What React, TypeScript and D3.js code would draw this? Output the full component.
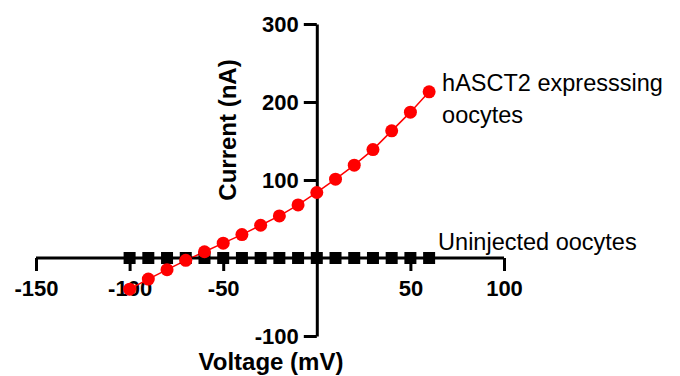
import React, { useEffect, useRef } from 'react';
import * as d3 from 'd3';

const voltages = [-100, -90, -80, -70, -60, -50, -40, -30, -20, -10, 0, 10, 20, 30, 40, 50, 60];
const hasct2 = [-40, -27, -15, -3, 8, 19, 30, 42, 54, 68, 84, 101, 119, 139, 163, 187, 213];
const uninjected = [0, 0, 0, 0, 0, 0, 0, 0, 0, 0, 0, 0, 0, 0, 0, 0, 0];
const xTicks = [-150, -100, -50, 50, 100];
const yTicks = [-100, 100, 200, 300];

const App = () => {
  const svgRef = useRef<SVGSVGElement>(null);

  useEffect(() => {
    const width = 680;
    const height = 376;
    const font = "'Liberation Sans', Arial, sans-serif";
    const fmt = (d: number) => String(d); // plain hyphen minus like the original

    const x = d3.scaleLinear().domain([-150, 100]).range([36, 504]);
    const y = d3.scaleLinear().domain([-100, 300]).range([336, 24]);

    const svg = d3.select(svgRef.current)
      .attr("width", width)
      .attr("height", height)
      .attr("viewBox", [0, 0, width, height]);
    svg.selectAll("*").remove();

    // x axis through y = 0
    const xAxis = svg.append("g")
      .attr("transform", `translate(0,${y(0)})`)
      .call(d3.axisBottom(x).tickValues(xTicks).tickFormat(fmt).tickSize(13).tickPadding(9).tickSizeOuter(0));
    xAxis.select(".domain").attr("d", `M${x(-150)},0H${x(100)}`);

    // y axis through x = 0
    svg.append("g")
      .attr("transform", `translate(${x(0)},0)`)
      .call(d3.axisLeft(y).tickValues(yTicks).tickFormat(fmt).tickSize(13).tickPadding(5).tickSizeOuter(0));

    svg.selectAll(".domain, .tick line")
      .attr("stroke", "#000")
      .attr("stroke-width", 3);
    svg.selectAll(".tick text")
      .attr("fill", "#000")
      .attr("font-family", font)
      .attr("font-weight", "bold")
      .attr("font-size", 22);

    // red line
    const line = d3.line<number>()
      .x((d, i) => x(voltages[i]))
      .y(d => y(d));

    svg.append("path")
      .datum(hasct2)
      .attr("d", line)
      .attr("fill", "none")
      .attr("stroke", "#ff0000")
      .attr("stroke-width", 1.5);

    // uninjected squares
    svg.append("path")
      .datum(uninjected)
      .attr("d", line)
      .attr("fill", "none")
      .attr("stroke", "#000")
      .attr("stroke-width", 1.5);

    const sq = 12;
    svg.append("g")
      .selectAll("rect")
      .data(uninjected)
      .join("rect")
      .attr("x", (d, i) => x(voltages[i]) - sq / 2)
      .attr("y", d => y(d) - sq / 2)
      .attr("width", sq)
      .attr("height", sq)
      .attr("fill", "#000");

    svg.append("g")
      .selectAll("circle")
      .data(hasct2)
      .join("circle")
      .attr("cx", (d, i) => x(voltages[i]))
      .attr("cy", d => y(d))
      .attr("r", 6.5)
      .attr("fill", "#ff0000");

    // axis titles
    svg.append("text")
      .attr("transform", `translate(236,130) rotate(-90)`)
      .attr("text-anchor", "middle")
      .attr("font-family", font)
      .attr("font-weight", "bold")
      .attr("font-size", 24)
      .text("Current (nA)");

    svg.append("text")
      .attr("x", 271)
      .attr("y", 370)
      .attr("text-anchor", "middle")
      .attr("font-family", font)
      .attr("font-weight", "bold")
      .attr("font-size", 24)
      .text("Voltage (mV)");

    // series labels
    const lastX = x(voltages[voltages.length - 1]);
    const lab = svg.append("text")
      .attr("font-family", font)
      .attr("font-size", 23.5)
      .attr("fill", "#000");
    lab.append("tspan").attr("x", lastX + 13).attr("y", 91).text("hASCT2 expresssing");
    lab.append("tspan").attr("x", lastX + 13).attr("y", 123).text("oocytes");

    svg.append("text")
      .attr("x", lastX + 9)
      .attr("y", 250)
      .attr("font-family", font)
      .attr("font-size", 23.5)
      .attr("fill", "#000")
      .text("Uninjected oocytes");
  }, []);

  return (
    <svg ref={svgRef} style={{ position: "absolute", left: 0, top: 0, background: "#fff" }}></svg>
  );
};

export default App;
